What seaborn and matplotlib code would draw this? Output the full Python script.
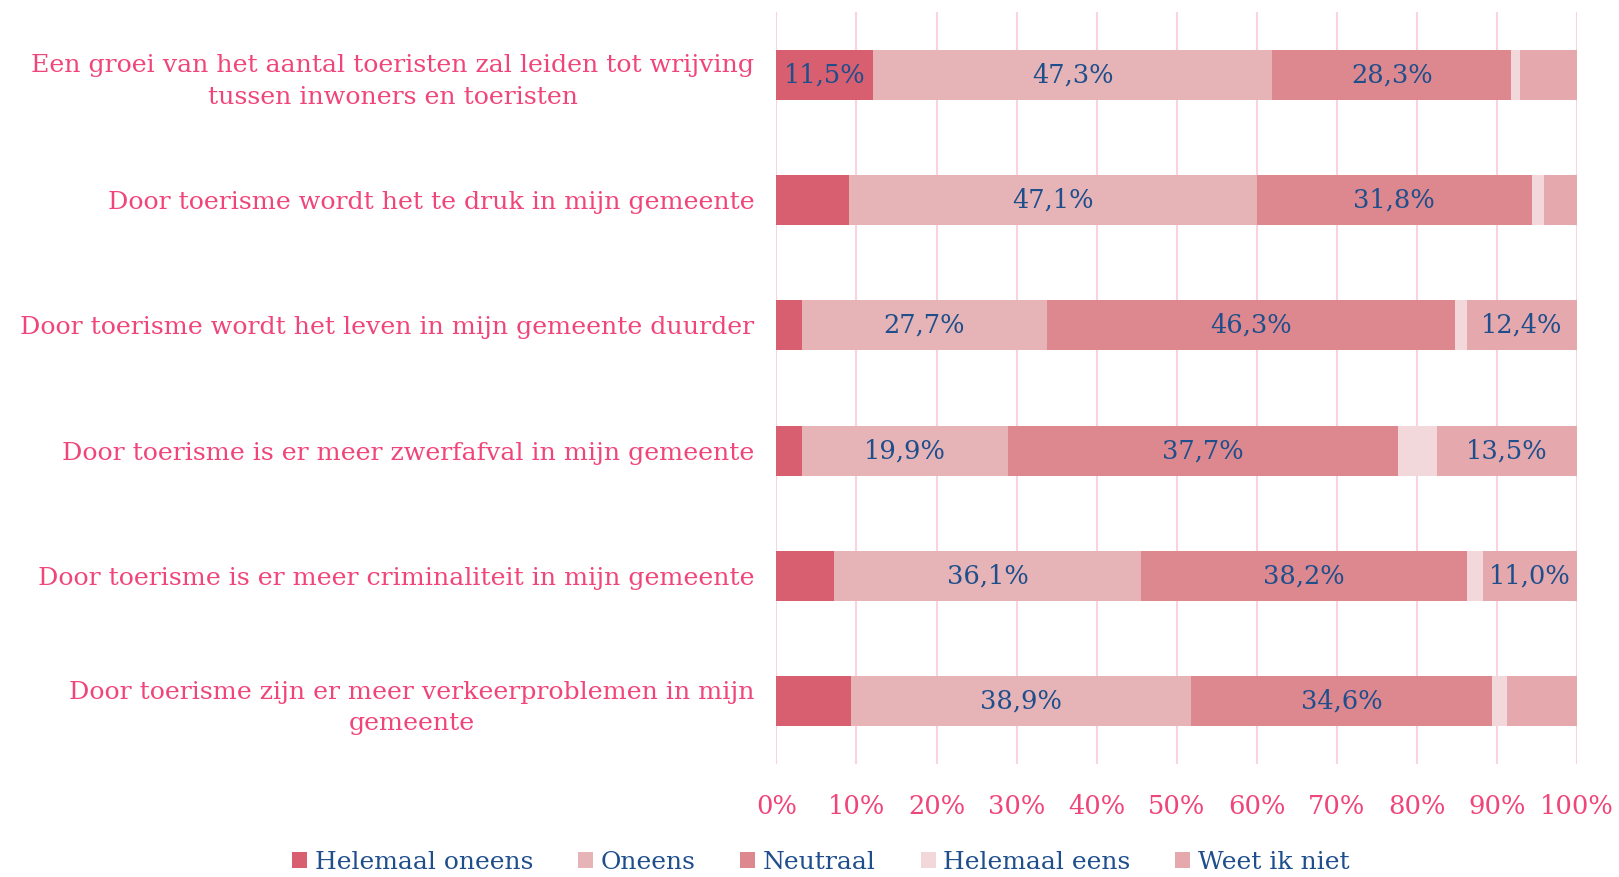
import numpy as np
import pandas as pd
import matplotlib
matplotlib.use("Agg")
import matplotlib.pyplot as plt
import seaborn as sns
from matplotlib.patches import Patch

categories = [
    "Een groei van het aantal toeristen zal leiden tot wrijving\ntussen inwoners en toeristen",
    "Door toerisme wordt het te druk in mijn gemeente",
    "Door toerisme wordt het leven in mijn gemeente duurder",
    "Door toerisme is er meer zwerfafval in mijn gemeente",
    "Door toerisme is er meer criminaliteit in mijn gemeente",
    "Door toerisme zijn er meer verkeerproblemen in mijn\ngemeente",
]
series_names = ["Helemaal oneens", "Oneens", "Neutraal", "Helemaal eens", "Weet ik niet"]
helemaal_oneens = [11.5, 8.4, 2.9, 2.5, 6.7, 8.6]
oneens = [47.3, 47.1, 27.7, 19.9, 36.1, 38.9]
neutraal = [28.3, 31.8, 46.3, 37.7, 38.2, 34.6]
helemaal_eens = [1.1, 1.4, 1.35, 3.8, 1.9, 1.7]
weet_ik_niet = [6.7, 3.8, 12.4, 13.5, 11.0, 8.0]
tick_labels = ["0%", "10%", "20%", "30%", "40%", "50%", "60%", "70%", "80%", "90%", "100%"]

colors = ["#D75F6F", "#E6B4B6", "#DC888E", "#F2D8DB", "#E5A8AC"]
pink = "#F0457A"
blue = "#1F4E8C"

raw = np.array([helemaal_oneens, oneens, neutraal, helemaal_eens, weet_ik_niet])
totals = raw.sum(axis=0)
pct = raw / totals * 100
cum = np.cumsum(pct, axis=0)

sns.set_theme(style="white")
plt.rcParams["font.family"] = ["DejaVu Serif"]

fig = plt.figure(figsize=(16.19, 8.77), dpi=100)
ax = fig.add_axes([0.4796, 0.129, 0.4943, 0.857])

for i in range(len(series_names) - 1, -1, -1):
    df = pd.DataFrame({"cat": categories, "val": cum[i]})
    sns.barplot(data=df, y="cat", x="val", orient="h", color=colors[i],
                saturation=1, width=0.4, ax=ax, zorder=3, linewidth=0)

for i in range(len(series_names)):
    for j in range(len(categories)):
        if raw[i, j] >= 10:
            xc = cum[i, j] - pct[i, j] / 2
            ax.text(xc, j, f"{raw[i, j]:.1f}%".replace(".", ","), ha="center", va="center",
                    color=blue, fontsize=18.5, zorder=5)

ax.set_xlim(0, 100)
ax.set_ylim(5.5, -0.5)
ax.set_xticks(np.arange(0, 101, 10))
ax.set_xticklabels(tick_labels, color=pink, fontsize=18.5)
ax.set_yticks(range(len(categories)))
ax.set_yticklabels(categories, color=pink, fontsize=18.2, ha="right",
                   multialignment="center", linespacing=1.45)
ax.tick_params(axis="y", length=0, pad=16)
ax.tick_params(axis="x", length=0, pad=22)
ax.set_xlabel("")
ax.set_ylabel("")
ax.grid(axis="x", color="#FAD3DE", linewidth=1.5, zorder=0)
ax.grid(axis="y", visible=False)
for s in ax.spines.values():
    s.set_visible(False)

handles = [Patch(facecolor=c, edgecolor="none") for c in colors]
leg = fig.legend(handles, series_names, loc="center", bbox_to_anchor=(0.507, 0.017), ncol=5,
                 frameon=False, fontsize=18, handlelength=0.6, handleheight=0.6,
                 handletextpad=0.3, columnspacing=1.8)
for t in leg.get_texts():
    t.set_color(blue)

fig.savefig("out.png", dpi=100)
